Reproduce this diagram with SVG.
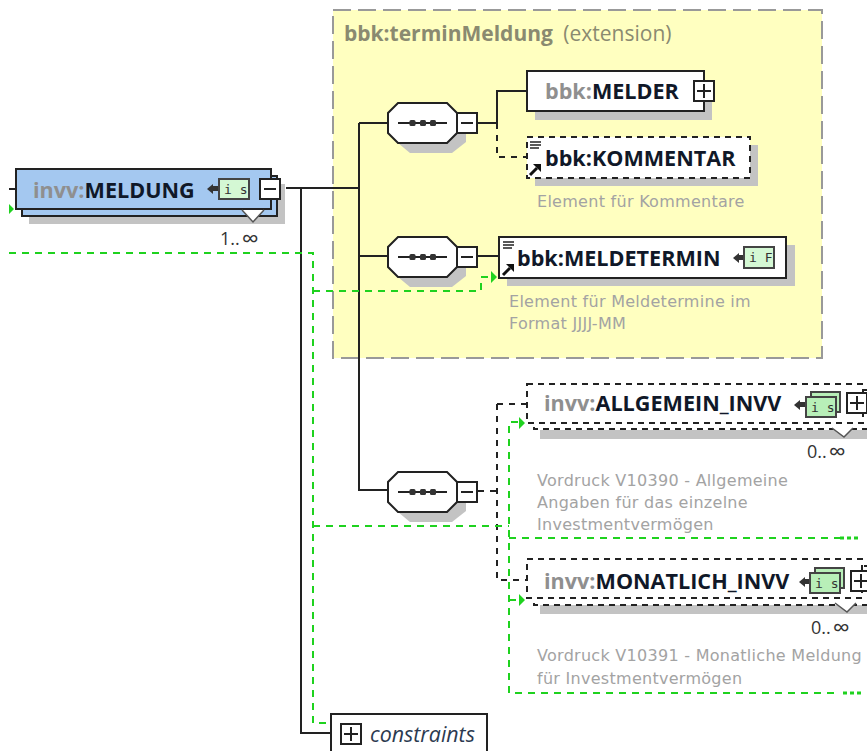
<svg xmlns="http://www.w3.org/2000/svg" width="867" height="751" viewBox="0 0 867 751">
<style>
text{font-family:"Open Sans","Noto Sans","DejaVu Sans",sans-serif}
.n{font-size:21.600px;font-weight:700;fill:#101828}
.g{fill:#8f8f8f}
.d{font-family:"DejaVu Sans",sans-serif;font-size:16px;letter-spacing:.28px;fill:#a3a3a3}
.m{font-size:18px;fill:#333}
.inf{font-size:24px}
.l{fill:none;stroke:#222;stroke-width:2}
.ld{fill:none;stroke:#222;stroke-width:2;stroke-dasharray:6 6}
.gl{fill:none;stroke:#1fd21f;stroke-width:2;stroke-dasharray:7 6}
.b{fill:#fff;stroke:#222;stroke-width:2}
.bd{fill:#fff;stroke:#222;stroke-width:2;stroke-dasharray:6 5}
.s{fill:#c3c3c3}
.t{fill:#d4f8d4;stroke:#444;stroke-width:2}
.t2{fill:#b8efb8;stroke:#444;stroke-width:2}
.tt{font-family:"DejaVu Sans Mono",monospace;font-size:13px;fill:#333}
.x{fill:#333}
</style>
<defs>
<g id="oct"><path class="s" d="M12 10H80V40L66 51H24L12 41Z"/><path class="b" d="M12 1H61L71 11V31L61 41H12L2 31V11Z"/><path class="l" d="M12 21H61"/><rect x="23.500" y="18" width="6" height="6" rx="1.500" class="x"/><rect x="34" y="18" width="6" height="6" rx="1.500" class="x"/><rect x="44" y="18" width="6" height="6" rx="1.500" class="x"/><rect class="b" x="71" y="11" width="20" height="20"/><path class="l" d="M75 21H87"/></g>
<g id="plus"><rect class="b" width="20" height="20"/><path class="l" d="M3 10H17M10 3V17"/></g>
<g id="ref"><path d="M3 4H14M3 7H14M3 10H12" stroke="#222" stroke-width="1.500" fill="none"/><path d="M3 37L10 30" stroke="#111" stroke-width="3" fill="none"/><path d="M6 26H14V34Z" fill="#111"/></g>
</defs>

<g id="yellow-group"><rect x="333" y="10" width="489" height="348" fill="#ffffc0" stroke="#999" stroke-width="2" stroke-dasharray="18 7"/>
<text x="344" y="41" font-size="21" font-weight="700" fill="#8a8a70">bbk:terminMeldung <tspan font-weight="400" dx="5">(extension)</tspan></text></g>

<g id="connectors">
<path class="l" d="M9 189H16"/>
<path class="l" d="M286 188H359M359 123V490H388M359 123H388M359 256H388M301 188V733H331M478 123H497V91H527M478 256H499"/>
<path class="ld" d="M497 123V157H527"/>
<path class="ld" d="M478 491H497M497 404V580H527M497 404H527"/>
<path class="gl" d="M9 253H313V723H332M313 291H481V277H490M313 526H509M518 422H509V693H840M509 538H840M509 600H518"/>
<path d="M840 538H860M843 693H864" stroke="#1fd21f" stroke-width="3" stroke-dasharray="4 3" fill="none"/>
<path d="M9 204l5 5l-5 5zM491 271l6 6l-6 6zM519 417l6 6l-6 6zM519 594l6 6l-6 6z" fill="#1fd21f"/>
</g>

<g id="MELDUNG">
<rect class="s" x="29" y="184" width="256" height="40"/>
<rect x="22" y="176" width="255" height="40" fill="#a4c8f0" stroke="#222" stroke-width="2"/>
<rect x="16" y="169" width="255" height="40" fill="#a4c8f0" stroke="#222" stroke-width="2"/>
<path d="M242 210L253 222L264 210" fill="#fff" stroke="#555" stroke-width="1.500"/>
<text x="33" y="198" class="n"><tspan class="g">invv:</tspan>MELDUNG</text>
<path d="M207 189l6-5v10z" class="x"/><rect x="213" y="186" width="6" height="5" class="x"/>
<rect class="t" x="219" y="179" width="30" height="20"/><text x="224" y="194" class="tt">i s</text>
<rect class="b" x="260" y="179" width="20" height="20"/><path class="l" d="M264 189H276"/>
<text x="220" y="245" class="m">1..<tspan class="inf" dx="2" dy="2">∞</tspan></text>
</g>

<g id="MELDER"><rect class="s" x="535" y="80" width="177" height="40"/><rect class="b" x="527" y="71" width="177" height="40"/>
<text x="545" y="99" class="n"><tspan class="g">bbk:</tspan>MELDER</text><use href="#plus" x="694" y="81"/></g>

<g id="KOMMENTAR"><rect class="s" x="535" y="145" width="223" height="41"/><rect class="bd" x="527" y="137" width="223" height="41"/><use href="#ref" x="527" y="138"/>
<text x="545" y="166" class="n">bbk:KOMMENTAR</text><text x="537" y="207" class="d">Element für Kommentare</text></g>

<g id="MELDETERMIN"><rect class="s" x="507" y="245" width="288" height="41"/><rect class="b" x="499" y="237" width="287" height="41"/><use href="#ref" x="500" y="238"/>
<text x="517" y="266" class="n">bbk:MELDETERMIN</text>
<path d="M733 258l6-5v10z" class="x"/><rect x="739" y="255" width="5" height="5" class="x"/><rect class="t" x="744" y="247" width="30" height="21"/><text x="749" y="262" class="tt">i F</text>
<text x="509" y="307" class="d">Element für Meldetermine im</text><text x="509" y="329" class="d">Format JJJJ-MM</text></g>

<g id="seq1"><use href="#oct" x="386" y="102"/></g>
<g id="seq2"><use href="#oct" x="386" y="236"/></g>
<g id="seq3"><use href="#oct" x="386" y="471"/></g>

<g id="ALLGEMEIN_INVV"><rect class="s" x="540" y="430" width="327" height="9"/><rect class="bd" x="534" y="390" width="340" height="39"/><rect class="bd" x="527" y="384" width="336" height="39"/>
<path d="M832 428L844 437L853 428" fill="#fff" stroke="#555" stroke-width="1.500"/>
<text x="544" y="411" class="n"><tspan class="g">invv:</tspan>ALLGEMEIN_INVV</text>
<path d="M794 405l6-5v10z" class="x"/><rect x="800" y="402" width="5" height="5" class="x"/>
<rect class="t2" x="811" y="392" width="29" height="20"/><rect class="t2" x="806" y="397" width="30" height="20"/><text x="811" y="412" class="tt">i s</text>
<use href="#plus" x="847" y="393"/>
<text x="807" y="458" class="m">0..<tspan class="inf" dx="2" dy="2">∞</tspan></text>
<text x="537" y="486" class="d">Vordruck V10390 - Allgemeine</text><text x="537" y="508" class="d">Angaben für das einzelne</text><text x="537" y="530" class="d">Investmentvermögen</text></g>

<g id="MONATLICH_INVV"><rect class="s" x="540" y="605" width="327" height="9"/><rect class="bd" x="534" y="566" width="340" height="39"/><rect class="bd" x="527" y="559" width="335" height="39"/>
<path d="M835 603L847 612L856 603" fill="#fff" stroke="#555" stroke-width="1.500"/>
<text x="544" y="589" class="n"><tspan class="g">invv:</tspan>MONATLICH_INVV</text>
<path d="M799 582l6-5v10z" class="x"/><rect x="805" y="579" width="5" height="5" class="x"/>
<rect class="t2" x="815" y="568" width="29" height="20"/><rect class="t2" x="810" y="573" width="30" height="20"/><text x="815" y="588" class="tt">i s</text>
<use href="#plus" x="851" y="571"/>
<text x="811" y="634" class="m">0..<tspan class="inf" dx="2" dy="2">∞</tspan></text>
<text x="537" y="661" class="d">Vordruck V10391 - Monatliche Meldung</text><text x="537" y="684" class="d">für Investmentvermögen</text></g>

<g id="constraints"><path class="b" d="M331 752V714H487V752"/><use href="#plus" x="341" y="724"/>
<text x="370" y="742" font-size="21.400" font-style="italic" fill="#2c3a50">constraints</text></g>
</svg>
